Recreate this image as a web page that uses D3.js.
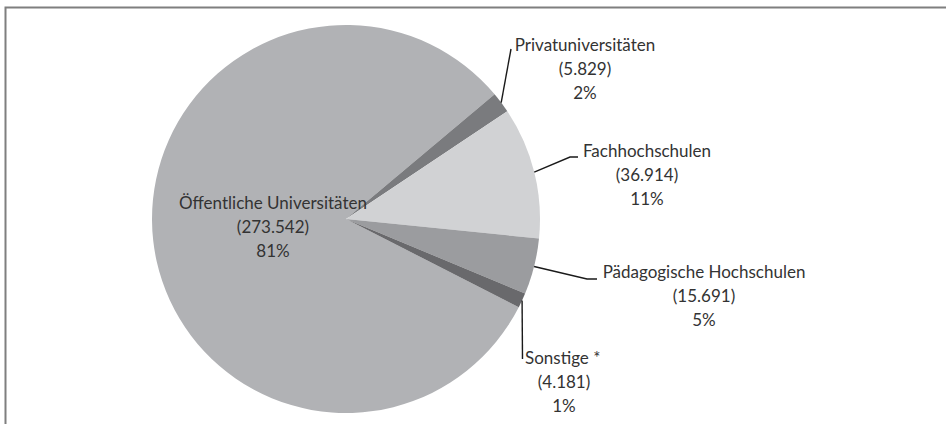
<!DOCTYPE html>
<html><head><meta charset="utf-8">
<script src="https://cdn.jsdelivr.net/npm/d3@7"></script>
<style>body{margin:0;background:#fff;}svg{display:block;}</style>
</head><body>
<svg id="c" width="946" height="424"></svg>
<script>
const categories = ["Öffentliche Universitäten","Privatuniversitäten","Fachhochschulen","Pädagogische Hochschulen","Sonstige *"];
const values = [273542, 5829, 36914, 15691, 4181];
const colors = ["#b1b2b5","#7a7b7e","#d1d2d4","#9b9c9f","#69696c"];

const W = 946, H = 424;
const cx = 346, cy = 219, R = 194;
const startDeg = 117.06;
const svg = d3.select("#c");
const de = d3.formatLocale({decimal:",", thousands:".", grouping:[3], currency:["","€"]});
const fmt = de.format(",d");
const total = d3.sum(values);

// frame
svg.append("rect").attr("x",5.5).attr("y",7.5).attr("width",1000).attr("height",500)
  .attr("fill","none").attr("stroke","#7f7f7f").attr("stroke-width",2);

const pie = d3.pie().sort(null).value(d=>d)
  .startAngle(startDeg*Math.PI/180).endAngle(startDeg*Math.PI/180 + 2*Math.PI);
const arcs = pie(values);
const arc = d3.arc().innerRadius(0).outerRadius(R);
const g = svg.append("g").attr("transform",`translate(${cx},${cy})`);
g.selectAll("path").data(arcs).enter().append("path")
  .attr("d",arc).attr("fill",(d,i)=>colors[i]);

// label layout (positions relative to svg)
const layout = [
  {x:273, y:203, leader:null},
  {x:585, y:45, leader:[[511,49]]},
  {x:647, y:151, leader:[[570,157],[578,157]]},
  {x:704, y:272, leader:[[587,279],[597,279]]},
  {x:564, y:358, leader:[[522.5,359]], firstX:525, firstAnchor:"start"}
];

const edge = d => { const a=(d.startAngle+d.endAngle)/2; return [cx+R*Math.sin(a), cy-R*Math.cos(a)]; };
arcs.forEach((d,i)=>{
  const L = layout[i];
  if (L.leader) {
    const pts = [edge(d)].concat(L.leader);
    svg.append("path").attr("d", d3.line()(pts)).attr("fill","none")
      .attr("stroke","#1a1a1a").attr("stroke-width",1.4);
  }
  const lines = [categories[i], "("+fmt(values[i])+")", Math.round(values[i]/total*100)+"%"];
  lines.forEach((t,k)=>{
    const first = k===0 && L.firstAnchor;
    svg.append("text")
      .attr("x", first ? L.firstX : L.x)
      .attr("y", L.y + k*24)
      .attr("dy","0.35em")
      .attr("text-anchor", first ? L.firstAnchor : "middle")
      .attr("font-family","Lato, 'Liberation Sans Narrow', sans-serif")
      .attr("font-size",17)
      .attr("fill","#333")
      .text(t);
  });
});
</script>
</body></html>
